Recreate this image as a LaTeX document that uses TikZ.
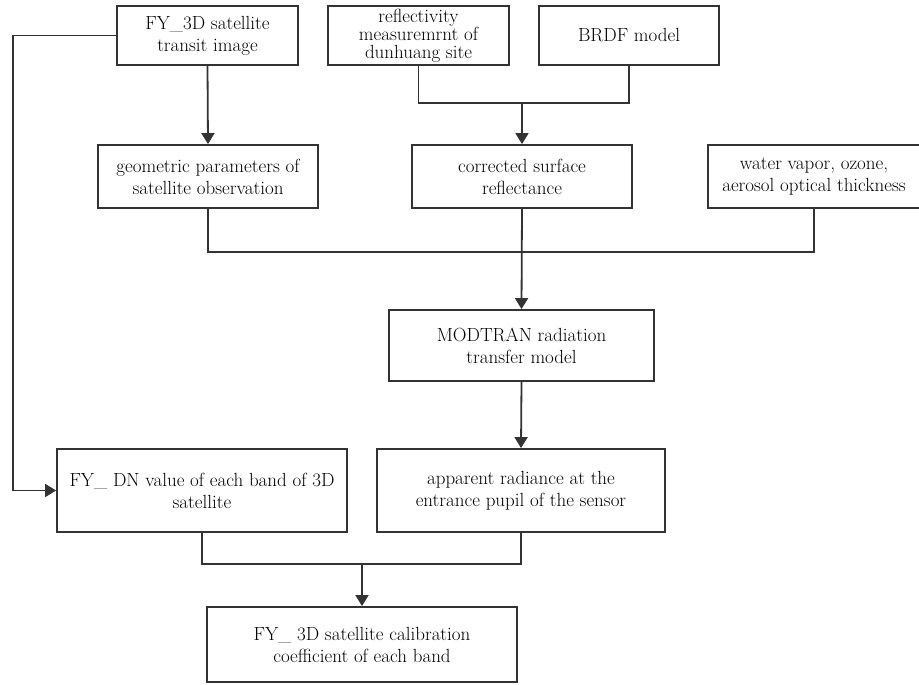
\documentclass[tikz,border=0pt]{standalone}
\usepackage{tikz}
\usetikzlibrary{arrows.meta}
\tikzset{
	>={Triangle[length=11pt,width=13pt]},
	box/.style={draw=black!80, line width=1.8pt, align=center, inner sep=0pt,
		text=black, font=\fontsize{19}{22}\selectfont},
	link/.style={draw=black!80, line width=1.8pt},
	flow/.style={link, ->},
}

\begin{document}
\begin{tikzpicture}[x=1pt, y=-1pt]
	\useasboundingbox (0,0) rectangle (919,685);
	
	% Top row: input data
	\node[box, minimum width=181pt, minimum height=59pt] (sat) at (207.5,35.5)
	{FY\_3D satellite\\transit image};
	\node[box, minimum width=181pt, minimum height=59pt,
		font=\fontsize{19}{18}\selectfont] (refl) at (418.5,35.5)
	{reflectivity\\measuremrnt of\\dunhuang site};
	\node[box, minimum width=180pt, minimum height=59pt] (brdf) at (629,35.5)
	{BRDF model};
	
	% Second row: inputs of the radiation model
	\node[box, minimum width=220pt, minimum height=63pt] (geo) at (208,176.5)
	{geometric parameters of\\satellite observation};
	\node[box, minimum width=220pt, minimum height=63pt] (corr) at (522,176.5)
	{corrected surface\\reflectance};
	\node[box, minimum width=212pt, minimum height=63pt] (atm) at (814,176.5)
	{water vapor, ozone,\\aerosol optical thickness};
	
	% Radiation transfer
	\node[box, minimum width=265pt, minimum height=71pt] (modtran) at (521.5,345.5)
	{MODTRAN radiation\\transfer model};
	
	% DN value and radiance
	\node[box, minimum width=290pt, minimum height=83pt] (dn) at (202,490.5)
	{FY\_ DN value of each band of 3D\\satellite};
	\node[box, minimum width=288pt, minimum height=83pt] (rad) at (521,490.5)
	{apparent radiance at the\\entrance pupil of the sensor};
	
	% Result
	\node[box, minimum width=310pt, minimum height=75pt] (coef) at (362,644.5)
	{FY\_ 3D satellite calibration\\coefficient of each band};
	
	% Junction points
	\coordinate (lft) at (13,35.5);
	\coordinate (j1) at (522,103);
	\coordinate (j2) at (522,252);
	\coordinate (j3) at (362,564);
	
	% Connectors
	\draw[flow] (sat.west) -- (lft) |- (dn.west);
	\draw[flow] (sat.south) -- (geo.north);
	\draw[link] (refl.south) |- (j1) -| (brdf.south);
	\draw[flow] (j1) -- (corr.north);
	\draw[link] (geo.south) |- (j2) -| (atm.south);
	\draw[flow] (corr.south) -- (modtran.north);
	\draw[flow] (modtran.south) -- (rad.north);
	\draw[link] (dn.south) |- (j3) -| (rad.south);
	\draw[flow] (j3) -- (coef.north);
	
\end{tikzpicture}
\end{document}
